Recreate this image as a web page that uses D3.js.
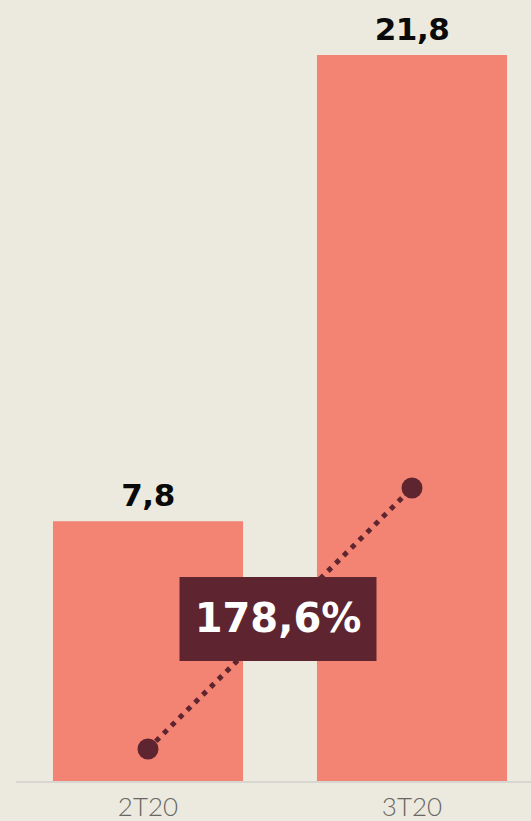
<!DOCTYPE html>
<html>
<head>
<meta charset="utf-8">
<script src="https://cdn.jsdelivr.net/npm/d3@7"></script>
<style>
    html, body { margin: 0; padding: 0; background: #eceadf; }
    svg { display: block; }
</style>
</head>
<body>
<div id="chart"></div>
<script>
// Data
const categories = ["2T20", "3T20"];
const values = [7.8, 21.8];
const valueLabels = ["7,8", "21,8"];
const growthPoints = [0, 178.6];
const growthLabel = "178,6%";

const width = 531;
const height = 821;

const svg = d3.select("#chart").append("svg")
    .attr("width", width)
    .attr("height", height);

const x = d3.scaleBand()
    .domain(categories)
    .range([16, 544])
    .paddingInner(0.28)
    .paddingOuter(0.14);

const y = d3.scaleLinear()
    .domain([0, 21.8])
    .range([781, 55]);

// separate scale for the growth line
const yLine = d3.scaleLinear()
    .domain([0, 178.6])
    .range([749, 488]);

// bars
svg.append("g")
    .selectAll("rect")
    .data(values)
    .enter()
    .append("rect")
    .attr("x", (d, i) => x(categories[i]))
    .attr("y", d => y(d))
    .attr("width", x.bandwidth())
    .attr("height", d => y(0) - y(d))
    .attr("fill", "#f38473");

// baseline
svg.append("line")
    .attr("x1", 16)
    .attr("x2", width)
    .attr("y1", y(0) + 1)
    .attr("y2", y(0) + 1)
    .attr("stroke", "#d8d6d1")
    .attr("stroke-width", 2);

// value labels
svg.append("g")
    .selectAll("text")
    .data(values)
    .enter()
    .append("text")
    .attr("x", (d, i) => x(categories[i]) + x.bandwidth() / 2)
    .attr("y", d => y(d) - 15)
    .attr("text-anchor", "middle")
    .attr("font-family", "'DejaVu Sans', sans-serif")
    .attr("font-weight", "bold")
    .attr("font-size", 31)
    .attr("letter-spacing", -0.5)
    .attr("fill", "#0a0a0a")
    .text((d, i) => valueLabels[i]);

// category labels
svg.append("g")
    .selectAll("text")
    .data(categories)
    .enter()
    .append("text")
    .attr("x", d => x(d) + x.bandwidth() / 2)
    .attr("y", 816)
    .attr("text-anchor", "middle")
    .attr("font-family", "Lato, 'Noto Sans', sans-serif")
    .attr("font-weight", 300)
    .attr("font-size", 26)
    .attr("fill", "#686763")
    .text(d => d);

// dotted growth line
const lineGen = d3.line()
    .x((d, i) => x(categories[i]) + x.bandwidth() / 2)
    .y(d => yLine(d));

svg.append("path")
    .datum(growthPoints)
    .attr("d", lineGen)
    .attr("fill", "none")
    .attr("stroke", "#5e2530")
    .attr("stroke-width", 5)
    .attr("stroke-dasharray", "5,6");

svg.append("g")
    .selectAll("circle")
    .data(growthPoints)
    .enter()
    .append("circle")
    .attr("cx", (d, i) => x(categories[i]) + x.bandwidth() / 2)
    .attr("cy", d => yLine(d))
    .attr("r", 10.5)
    .attr("fill", "#5e2530");

// growth label box
const boxW = 197, boxH = 84;
const cx = (x(categories[0]) + x(categories[1]) + x.bandwidth()) / 2;
const boxG = svg.append("g")
    .attr("transform", `translate(${cx - boxW / 2 - 2},577)`);

boxG.append("rect")
    .attr("width", boxW)
    .attr("height", boxH)
    .attr("fill", "#5e2530");

boxG.append("text")
    .attr("x", boxW / 2)
    .attr("y", 55)
    .attr("text-anchor", "middle")
    .attr("font-family", "'DejaVu Sans', sans-serif")
    .attr("font-weight", "bold")
    .attr("font-size", 40)
    .attr("fill", "#ffffff")
    .text(growthLabel);
</script>
</body>
</html>
